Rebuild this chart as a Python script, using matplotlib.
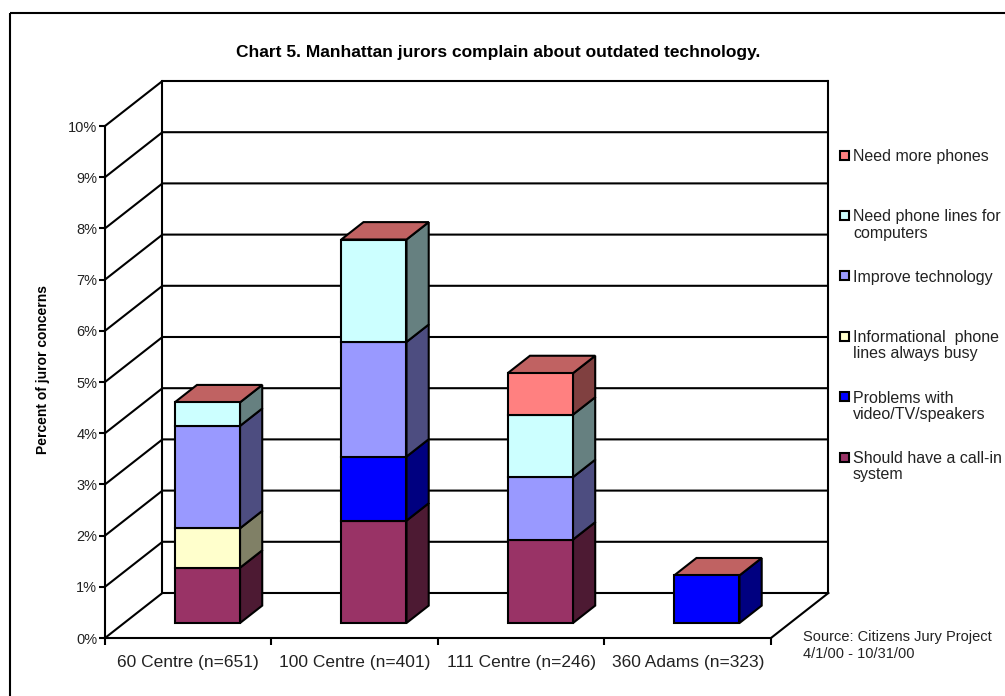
import matplotlib.pyplot as plt
from matplotlib.patches import Polygon, Rectangle

plt.rcParams['font.family'] = ['Liberation Sans', 'DejaVu Sans']

categories = ['60 Centre (n=651)', '100 Centre (n=401)',
              '111 Centre (n=246)', '360 Adams (n=323)']

# percent of juror concerns, stacked bottom -> top
call_in = [1.08, 2.00, 1.63, 0.0]
video_tv = [0.0, 1.25, 0.0, 0.93]
info_busy = [0.77, 0.0, 0.0, 0.0]
improve_tech = [2.00, 2.24, 1.22, 0.0]
lines_computers = [0.46, 2.00, 1.22, 0.0]
more_phones = [0.0, 0.0, 0.81, 0.0]

series = [call_in, video_tv, info_busy, improve_tech, lines_computers, more_phones]
series_names = ['Should have a call-in\nsystem', 'Problems with\nvideo/TV/speakers',
                'Informational  phone\nlines always busy', 'Improve technology',
                'Need phone lines for\ncomputers', 'Need more phones']
front_colors = ['#993366', '#0000FF', '#FFFFCC', '#9999FF', '#CCFFFF', '#FF8080']
side_colors = ['#4D1A33', '#000080', '#808066', '#4D4D80', '#668080', '#804040']
top_color = '#C06262'

yticks = list(range(0, 11))
ytick_labels = [f'{v}%' for v in yticks]

# oblique 3D look: depth 0 = front plane, 1 = back wall
DX, DY = 0.345, 0.879
D0, D1 = 0.333, 0.72
HW = 0.196


def proj(x, y, d):
    return (x + DX * d, y + DY * d)


W, H = 1005, 696
fig = plt.figure(figsize=(W / 100, H / 100), dpi=100)
ax = fig.add_axes([105 / W, 58 / H, 723.4 / W, 557 / H])
ax.set_xlim(0, 4 + DX)
ax.set_ylim(0, 10 + DY)
ax.patch.set_visible(False)

lw = 1.5
for s in ['top', 'right']:
    ax.spines[s].set_visible(False)
ax.spines['left'].set_bounds(0, 10)
ax.spines['bottom'].set_bounds(0, 4)
ax.spines['left'].set_linewidth(lw)
ax.spines['bottom'].set_linewidth(lw)

ax.set_yticks(yticks)
ax.set_yticklabels(ytick_labels, fontsize=10.5, color='#222222')
ax.tick_params(axis='y', length=4, width=lw, pad=1.5)
ax.set_xticks(range(5))
ax.set_xticklabels([])
ax.tick_params(axis='x', which='major', length=5, width=lw)
ax.set_xticks([i + 0.5 for i in range(4)], minor=True)
ax.set_xticklabels(categories, minor=True, fontsize=12.5, color='#222222')
ax.tick_params(axis='x', which='minor', length=0, pad=12)

# walls and gridlines
for v in yticks:
    x0, y0 = proj(0, v, 0)
    x1, y1 = proj(0, v, 1)
    x2, y2 = proj(4, v, 1)
    ax.plot([x0, x1, x2], [y0, y1, y2], color='black', lw=lw, zorder=1,
            clip_on=False, solid_capstyle='butt')
bx, by = proj(0, 0, 1)
tx, ty = proj(0, 10, 1)
ax.plot([bx, tx], [by, ty], color='black', lw=lw, zorder=1, clip_on=False)
rx, ry = proj(4, 10, 1)
rbx, rby = proj(4, 0, 1)
ax.plot([rx, rbx], [ry, rby], color='black', lw=lw, zorder=1, clip_on=False)
fx, fy = proj(4, 0, 0)
ax.plot([fx, rbx], [fy, rby], color='black', lw=lw, zorder=1, clip_on=False)

# stacked 3D bars
for i in range(len(categories)):
    xl, xr = i + 0.5 - HW, i + 0.5 + HW
    base = 0.0
    total = sum(s[i] for s in series)
    for k, s in enumerate(series):
        v = s[i]
        if v <= 0:
            continue
        top = base + v
        front = [proj(xl, base, D0), proj(xr, base, D0), proj(xr, top, D0), proj(xl, top, D0)]
        side = [proj(xr, base, D0), proj(xr, base, D1), proj(xr, top, D1), proj(xr, top, D0)]
        ax.add_patch(Polygon(side, closed=True, facecolor=side_colors[k],
                             edgecolor='black', lw=lw, zorder=3, joinstyle='miter'))
        ax.add_patch(Polygon(front, closed=True, facecolor=front_colors[k],
                             edgecolor='black', lw=lw, zorder=4, joinstyle='miter'))
        base = top
    roof = [proj(xl, total, D0), proj(xr, total, D0), proj(xr, total, D1), proj(xl, total, D1)]
    ax.add_patch(Polygon(roof, closed=True, facecolor=top_color,
                         edgecolor='black', lw=lw, zorder=3, joinstyle='miter'))

# overlay in pixel coordinates for frame, title, legend
ov = fig.add_axes([0, 0, 1, 1])
ov.set_xlim(0, W)
ov.set_ylim(H, 0)
ov.set_axis_off()
ov.add_patch(Rectangle((10, 13), 1010, 700, fill=False, edgecolor='black', lw=1.5,
                       clip_on=False))

ov.text(498, 52, 'Chart 5. Manhattan jurors complain about outdated technology.',
        ha='center', va='center', fontsize=12.5, fontweight='bold')
ov.text(43, 370, 'Percent of juror concerns', rotation=90, ha='center', va='center',
        fontsize=10, fontweight='bold')

legend_order = list(range(len(series)))[::-1]
for j, k in enumerate(legend_order):
    yc = 155 + j * 60.4
    ov.add_patch(Rectangle((840, yc - 4.5), 9, 9, facecolor=front_colors[k],
                           edgecolor='black', lw=1.5))
    ov.text(853, yc - 6, series_names[k], ha='left', va='top', fontsize=11.5,
            linespacing=1.1, color='#222222')

ov.text(803, 637, 'Source: Citizens Jury Project', ha='left', va='center',
        fontsize=10.5, color='#222222')
ov.text(803, 654, '4/1/00 - 10/31/00', ha='left', va='center',
        fontsize=10.5, color='#222222')

fig.savefig('out.png', dpi=100)
